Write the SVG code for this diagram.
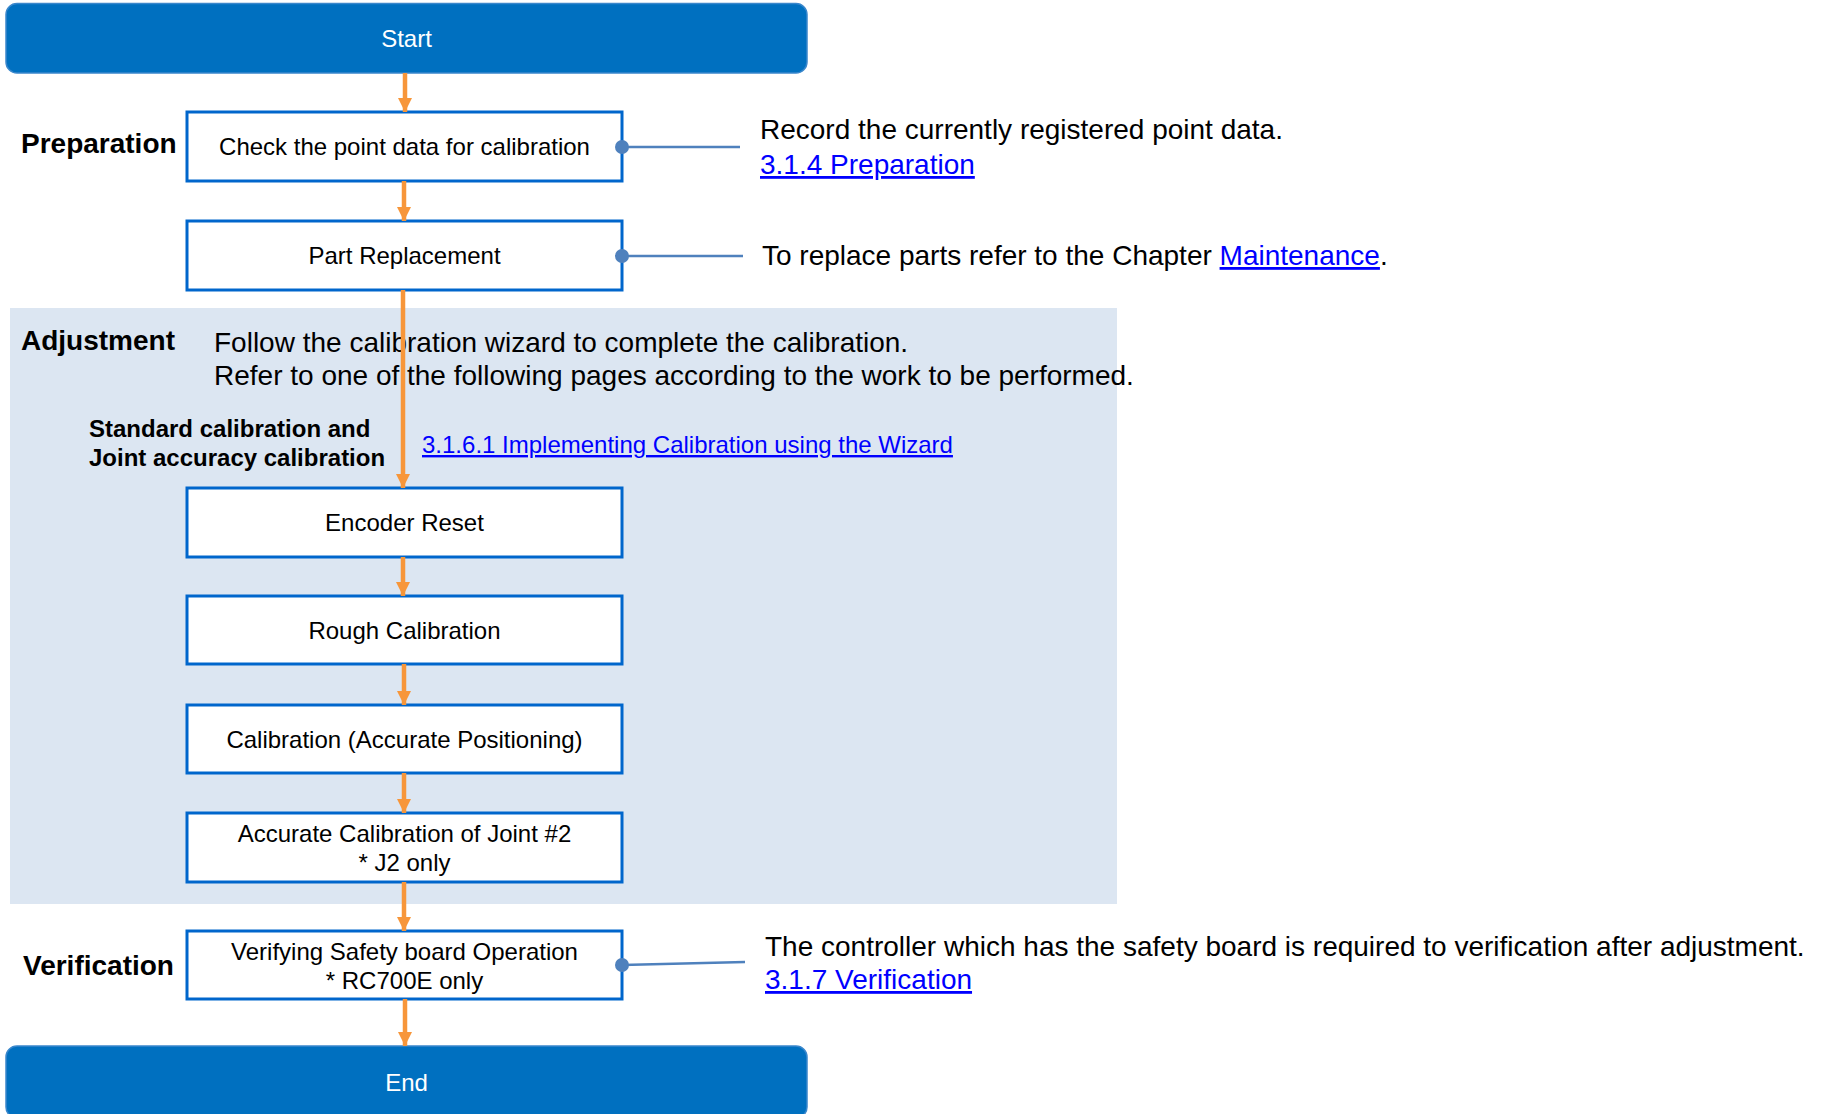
<svg xmlns="http://www.w3.org/2000/svg" width="1822" height="1114" viewBox="0 0 1822 1114">
<defs>
<style>
text{font-family:"Liberation Sans",Arial,sans-serif;}
.term{fill:#0070C0;stroke:#3A87CC;stroke-width:1.5;}
.tt{fill:#FFFFFF;font-size:24px;text-anchor:middle;}
.box{fill:#FFFFFF;stroke:#0066CC;stroke-width:3;}
.bt{fill:#000000;font-size:24px;text-anchor:middle;}
.lab{fill:#000000;font-size:28px;font-weight:bold;}
.sub{fill:#000000;font-size:24px;font-weight:bold;}
.note{fill:#000000;font-size:28px;}
.link{fill:#0000FF;text-decoration:underline;}
.arr{stroke:#F7963A;stroke-width:4.5;fill:none;marker-end:url(#ah);}
.lead{stroke:#4F81BD;stroke-width:2.5;fill:none;}
.dot{fill:#4F81BD;}
</style>
<marker id="ah" viewBox="0 0 14 16" markerWidth="14" markerHeight="16" refX="14" refY="7" orient="auto" markerUnits="userSpaceOnUse">
<path d="M0,0 L14,7 L0,14 Z" fill="#F7963A"/>
</marker>
</defs>
<rect id="adjustment-panel" x="10" y="308" width="1107" height="596" fill="#DCE6F2"/>
<g id="labels">
<text class="lab" x="21" y="153">Preparation</text>
<text class="lab" x="21" y="350">Adjustment</text>
<text class="lab" x="23" y="975">Verification</text>
<text class="note" x="214" y="352">Follow the calibration wizard to complete the calibration.</text>
<text class="note" x="214" y="385">Refer to one of the following pages according to the work to be performed.</text>
<text class="sub" x="89" y="437">Standard calibration and</text>
<text class="sub" x="89" y="466">Joint accuracy calibration</text>
<text x="422" y="453" font-size="24" class="link">3.1.6.1 Implementing Calibration using the Wizard</text>
</g>
<g id="start"><rect class="term" x="6" y="3.5" width="801" height="69.5" rx="11"/><text class="tt" x="406.5" y="46.5">Start</text></g>
<g id="check-point-data"><rect class="box" x="187" y="112" width="435" height="69"/><text class="bt" x="404.5" y="155">Check the point data for calibration</text></g>
<g id="part-replacement"><rect class="box" x="187" y="221" width="435" height="69"/><text class="bt" x="404.5" y="264">Part Replacement</text></g>
<g id="encoder-reset"><rect class="box" x="187" y="488" width="435" height="69"/><text class="bt" x="404.5" y="531">Encoder Reset</text></g>
<g id="rough-calibration"><rect class="box" x="187" y="596" width="435" height="68"/><text class="bt" x="404.5" y="638.5">Rough Calibration</text></g>
<g id="calibration-accurate"><rect class="box" x="187" y="705" width="435" height="68"/><text class="bt" x="404.5" y="747.5">Calibration (Accurate Positioning)</text></g>
<g id="accurate-joint2"><rect class="box" x="187" y="813" width="435" height="69"/><text class="bt" x="404.5" y="841.5">Accurate Calibration of Joint #2</text><text class="bt" x="404.5" y="870.5">* J2 only</text></g>
<g id="verify-safety"><rect class="box" x="187" y="931" width="435" height="68"/><text class="bt" x="404.5" y="960">Verifying Safety board Operation</text><text class="bt" x="404.5" y="989">* RC700E only</text></g>
<g id="end"><rect class="term" x="6" y="1046" width="801" height="72" rx="11"/><text class="tt" x="406.5" y="1090.5">End</text></g>
<g id="note-preparation">
<text class="note" x="760" y="139">Record the currently registered point data.</text>
<text class="note link" x="760" y="174">3.1.4 Preparation</text>
</g>
<g id="note-part">
<text class="note" x="762" y="265">To replace parts refer to the Chapter <tspan class="link">Maintenance</tspan>.</text>
</g>
<g id="note-verification">
<text class="note" x="765" y="956">The controller which has the safety board is required to verification after adjustment.</text>
<text class="note link" x="765" y="989">3.1.7 Verification</text>
</g>
<g id="connectors">
<line class="arr" x1="405" y1="73" x2="405" y2="112"/>
<line class="arr" x1="404" y1="181" x2="404" y2="221"/>
<line class="arr" x1="403" y1="290" x2="403" y2="488"/>
<line class="arr" x1="403" y1="557" x2="403" y2="596"/>
<line class="arr" x1="404" y1="664" x2="404" y2="705"/>
<line class="arr" x1="404" y1="773" x2="404" y2="813"/>
<line class="arr" x1="404" y1="882" x2="404" y2="931"/>
<line class="arr" x1="405" y1="999" x2="405" y2="1046"/>
<line class="lead" x1="622" y1="147" x2="740" y2="147"/>
<circle class="dot" cx="622" cy="147" r="7"/>
<line class="lead" x1="622" y1="256" x2="743" y2="256"/>
<circle class="dot" cx="622" cy="256" r="7"/>
<line class="lead" x1="622" y1="965" x2="745" y2="962"/>
<circle class="dot" cx="622" cy="965" r="7"/>
</g>
</svg>
